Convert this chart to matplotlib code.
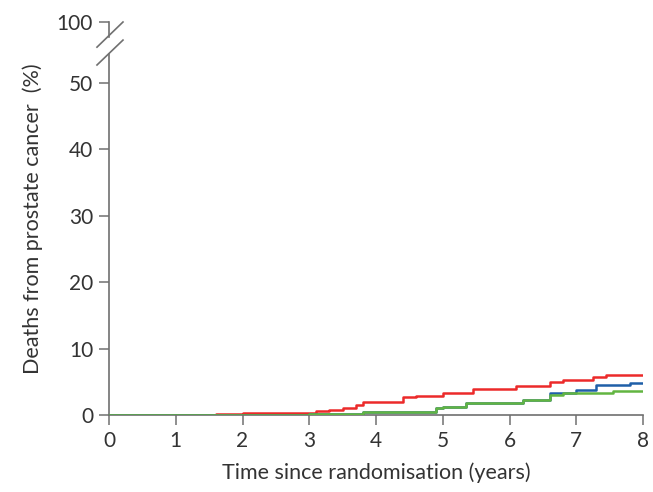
import matplotlib
matplotlib.use("Agg")
import matplotlib.pyplot as plt

plt.rcParams['font.family'] = ['Lato', 'DejaVu Sans']

# step data (years, % deaths)
red_t = [0, 1.6, 2.0, 2.6, 3.1, 3.3, 3.5, 3.7, 3.8, 4.4, 4.6, 5.0, 5.45, 6.1, 6.6, 6.8, 7.25, 7.45, 8.0]
red_y = [0, 0.15, 0.25, 0.35, 0.6, 0.7, 1.0, 1.5, 2.0, 2.75, 2.9, 3.25, 3.85, 4.3, 4.9, 5.3, 5.7, 6.1, 6.1]

blue_t = [0, 2.2, 3.0, 3.8, 4.9, 5.0, 5.35, 6.2, 6.6, 7.0, 7.3, 7.8, 8.0]
blue_y = [0, 0.05, 0.2, 0.5, 1.0, 1.25, 1.8, 2.25, 3.25, 3.75, 4.5, 4.75, 4.75]

green_t = [0, 2.2, 3.0, 3.8, 4.9, 5.0, 5.35, 6.2, 6.6, 6.8, 7.55, 8.0]
green_y = [0, 0.05, 0.2, 0.5, 1.0, 1.25, 1.85, 2.2, 3.0, 3.25, 3.6, 3.6]

ytick_vals = [0, 10, 20, 30, 40, 50, 59.2]
ytick_labels = ['0', '10', '20', '30', '40', '50', '100']
xtick_vals = [0, 1, 2, 3, 4, 5, 6, 7, 8]

axis_col = '#707070'
txt_col = '#333333'

fig = plt.figure(figsize=(6.53, 4.92), dpi=100)
ax = fig.add_axes([109 / 653, 77 / 492, 534 / 653, 393 / 492])

ax.step(red_t, red_y, where='post', color='#ec2a2a', lw=1.8, zorder=3)
ax.step(blue_t, blue_y, where='post', color='#1f5fa8', lw=1.8, zorder=4)
ax.step(green_t, green_y, where='post', color='#62b541', lw=1.8, zorder=5)

ax.set_xlim(0, 8)
ax.set_ylim(0, 59.2)
ax.set_xticks(xtick_vals)
ax.set_yticks(ytick_vals)
ax.set_yticklabels(ytick_labels)

for s in ['top', 'right', 'left']:
    ax.spines[s].set_visible(False)
ax.spines['bottom'].set_color(axis_col)
ax.spines['bottom'].set_linewidth(1.2)

ax.tick_params(axis='both', direction='out', length=7.5, width=1.1, color=axis_col,
               labelsize=15, labelcolor=txt_col, pad=4)

# broken left spine
kw = dict(transform=ax.transAxes, color=axis_col, lw=1.2, clip_on=False)
ax.plot([0, 0], [0, 0.918], **kw)
ax.plot([0, 0], [0.963, 1.0], **kw)
ax.plot([-0.0225, 0.0262], [0.936, 1.0], **kw)
ax.plot([-0.0225, 0.0262], [0.8906, 0.954], **kw)

ax.set_xlabel('Time since randomisation (years)', fontsize=15.5, color=txt_col, labelpad=8)
ax.set_ylabel('Deaths from prostate cancer  (%)', fontsize=15.5, color=txt_col, labelpad=10)

fig.savefig('out.png', dpi=100)
